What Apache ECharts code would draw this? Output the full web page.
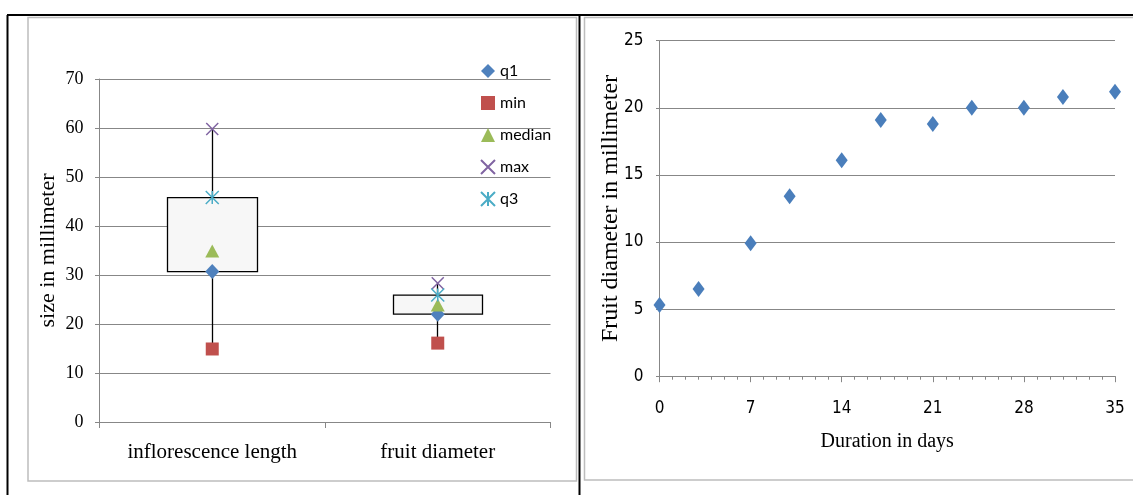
<!DOCTYPE html>
<html>
<head>
<meta charset="utf-8">
<script src="https://cdn.jsdelivr.net/npm/echarts@6/dist/echarts.min.js"></script>
<style>
html,body{margin:0;padding:0;background:#fff;}
#chart{width:1133px;height:495px;}
</style>
</head>
<body>
<div id="chart"></div>
<script>
// ---- Left chart: box summary per trait ----
const categories = ['inflorescence length', 'fruit diameter'];
const q1Values = [30.7, 22.0];
const minValues = [14.9, 16.1];
const medianValues = [34.9, 23.9];
const maxValues = [59.8, 28.3];
const q3Values = [45.8, 25.9];
const legendNames = ['q1', 'min', 'median', 'max', 'q3'];

// ---- Right chart: fruit growth ----
const days = [0, 3, 7, 10, 14, 17, 21, 24, 28, 31, 35];
const fruitDiameter = [5.3, 6.5, 9.9, 13.4, 16.1, 19.1, 18.8, 20.0, 20.0, 20.8, 21.2];

// ---- axis tick settings ----
const leftYTicks = { min: 0, max: 70, interval: 10 };
const rightYTicks = { min: 0, max: 25, interval: 5 };
const rightXTicks = { min: 0, max: 35, interval: 7 };

const GRID_COLOR = '#878787';
const SERIF = '"Liberation Serif", "Times New Roman", serif';
const NARROW = '"Liberation Sans Narrow", "DejaVu Sans Condensed", "Liberation Sans", sans-serif';

const boxData = categories.map((c, i) => [q1Values[i], q3Values[i], minValues[i], maxValues[i]]);

const chart = echarts.init(document.getElementById('chart'), null, { renderer: 'canvas' });

const option = {
  animation: false,
  backgroundColor: '#ffffff',
  graphic: [
    // gray inner frames
    { type: 'rect', shape: { x: 28, y: 17.5, width: 548.5, height: 463.5 }, style: { fill: 'none', stroke: '#bdbdbd', lineWidth: 1.5 }, z: 0 },
    { type: 'rect', shape: { x: 584.5, y: 17.5, width: 560, height: 462.5 }, style: { fill: 'none', stroke: '#bdbdbd', lineWidth: 1.5 }, z: 0 },
    // black table borders
    { type: 'line', shape: { x1: 7, y1: 15, x2: 1133, y2: 15 }, style: { stroke: '#000', lineWidth: 2.2 }, z: 10 },
    { type: 'line', shape: { x1: 7.5, y1: 15, x2: 7.5, y2: 495 }, style: { stroke: '#000', lineWidth: 2 }, z: 10 },
    { type: 'line', shape: { x1: 579.5, y1: 15, x2: 579.5, y2: 495 }, style: { stroke: '#000', lineWidth: 2 }, z: 10 }
  ],
  legend: {
    orient: 'vertical',
    left: 475,
    top: 58,
    itemWidth: 14,
    itemHeight: 14,
    itemGap: 16,
    textStyle: { fontFamily: 'Lato, "Liberation Sans", sans-serif', fontSize: 16, color: '#000' },
    data: legendNames
  },
  grid: [
    { left: 99.5, top: 79, width: 451, height: 343 },
    { left: 659.5, top: 40.7, width: 455.5, height: 335.5 }
  ],
  xAxis: [
    {
      type: 'category', gridIndex: 0, data: categories, boundaryGap: true,
      axisLine: { lineStyle: { color: GRID_COLOR, width: 1 } },
      axisTick: { show: true, length: 6, alignWithLabel: false, lineStyle: { color: GRID_COLOR } },
      axisLabel: { color: '#000', fontFamily: SERIF, fontSize: 21, margin: 20 }
    },
    {
      type: 'value', gridIndex: 1, min: rightXTicks.min, max: rightXTicks.max, interval: rightXTicks.interval,
      name: 'Duration in days', nameLocation: 'middle', nameGap: 56, nameMoveOverlap: false,
      nameTextStyle: { color: '#000', fontFamily: SERIF, fontSize: 20 },
      splitLine: { show: false },
      axisLine: { show: true, onZero: false, lineStyle: { color: GRID_COLOR, width: 1 } },
      axisTick: { show: true, length: 6, lineStyle: { color: GRID_COLOR } },
      minorTick: { show: true, splitNumber: 7, length: 3.5, lineStyle: { color: GRID_COLOR } },
      axisLabel: { color: '#000', fontFamily: NARROW, fontSize: 17, margin: 24 }
    }
  ],
  yAxis: [
    {
      type: 'value', gridIndex: 0, min: leftYTicks.min, max: leftYTicks.max, interval: leftYTicks.interval,
      name: 'size in millimeter', nameLocation: 'middle', nameGap: 40, nameMoveOverlap: false,
      nameTextStyle: { color: '#000', fontFamily: SERIF, fontSize: 22 },
      axisLine: { show: true, lineStyle: { color: GRID_COLOR, width: 1 } },
      axisTick: { show: true, length: 4.5, lineStyle: { color: GRID_COLOR } },
      splitLine: { show: true, lineStyle: { color: GRID_COLOR, width: 1 } },
      axisLabel: { color: '#000', fontFamily: SERIF, fontSize: 18, margin: 16 }
    },
    {
      type: 'value', gridIndex: 1, min: rightYTicks.min, max: rightYTicks.max, interval: rightYTicks.interval,
      name: 'Fruit diameter in millimeter', nameLocation: 'middle', nameGap: 37, nameMoveOverlap: false,
      nameTextStyle: { color: '#000', fontFamily: SERIF, fontSize: 24 },
      axisLine: { show: true, lineStyle: { color: GRID_COLOR, width: 1 } },
      axisTick: { show: true, length: 3.5, lineStyle: { color: GRID_COLOR } },
      splitLine: { show: true, lineStyle: { color: GRID_COLOR, width: 1 } },
      axisLabel: { color: '#000', fontFamily: NARROW, fontSize: 17, margin: 16 }
    }
  ],
  series: [
    {
      type: 'candlestick', xAxisIndex: 0, yAxisIndex: 0, barWidth: 90, z: 2,
      data: boxData,
      itemStyle: { color: '#f7f7f7', color0: '#f7f7f7', borderColor: '#000', borderColor0: '#000', borderWidth: 1.3 }
    },
    {
      name: 'q1', type: 'scatter', xAxisIndex: 0, yAxisIndex: 0, z: 5,
      symbol: 'diamond', symbolSize: [14, 15], data: q1Values,
      itemStyle: { color: '#4F81BD', opacity: 1 }
    },
    {
      name: 'min', type: 'scatter', xAxisIndex: 0, yAxisIndex: 0, z: 5,
      symbol: 'rect', symbolSize: 13, data: minValues,
      itemStyle: { color: '#C0504D', opacity: 1 }
    },
    {
      name: 'median', type: 'scatter', xAxisIndex: 0, yAxisIndex: 0, z: 5,
      symbol: 'triangle', symbolSize: [14, 13], data: medianValues,
      itemStyle: { color: '#9BBB59', opacity: 1 }
    },
    {
      name: 'max', type: 'scatter', xAxisIndex: 0, yAxisIndex: 0, z: 6,
      symbol: 'path://M0,0L10,10M10,0L0,10', symbolSize: 12, data: maxValues,
      itemStyle: { color: 'rgba(0,0,0,0)', borderColor: '#8064A2', borderWidth: 1.5, opacity: 1 }
    },
    {
      name: 'q3', type: 'scatter', xAxisIndex: 0, yAxisIndex: 0, z: 6,
      symbol: 'path://M0,0L10,10M10,0L0,10M5,0L5,10', symbolSize: 13, data: q3Values,
      itemStyle: { color: 'rgba(0,0,0,0)', borderColor: '#4BACC6', borderWidth: 1.5, opacity: 1 }
    },
    {
      name: 'Fruit diameter', type: 'scatter', xAxisIndex: 1, yAxisIndex: 1, z: 5,
      symbol: 'diamond', symbolSize: [12, 16],
      data: days.map((d, i) => [d, fruitDiameter[i]]),
      itemStyle: { color: '#4A7EBB', opacity: 1 }
    }
  ]
};
chart.setOption(option);
</script>
</body>
</html>
